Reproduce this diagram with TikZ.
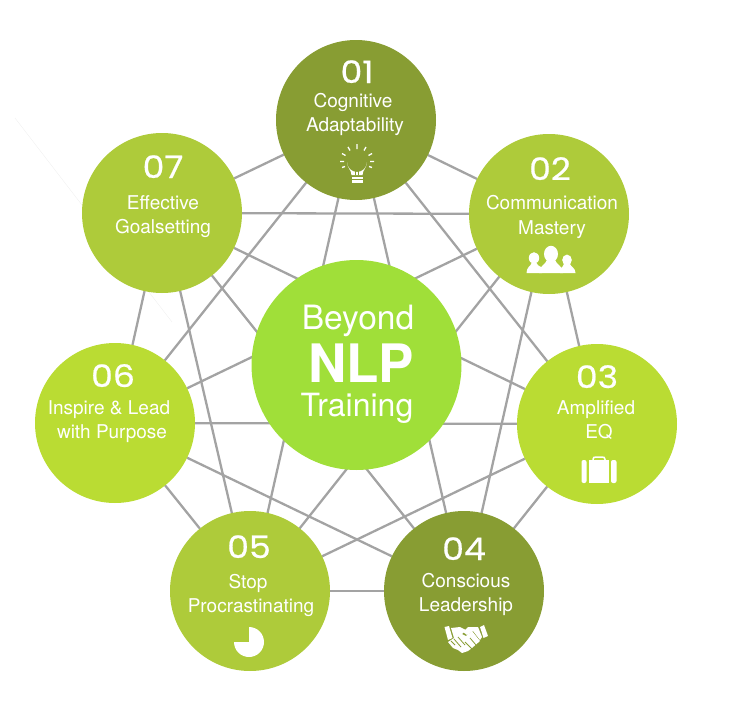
\documentclass[tikz,border=0pt]{standalone}
\usepackage{fontspec}
\setmainfont{TeX Gyre Heros}
\newfontfamily\numfont[FakeStretch=1.12,FakeBold=0.6]{Poppins}
\usetikzlibrary{backgrounds}
\definecolor{cDark}{HTML}{889D33}
\definecolor{cMid}{HTML}{AECB3A}
\definecolor{cLime}{HTML}{BADC33}
\definecolor{cCore}{HTML}{A0DF39}
\definecolor{cLine}{HTML}{A3A3A3}
\tikzset{
  x=1pt,y=-1pt,
  disc/.style={circle,minimum size=160pt,inner sep=0pt,outer sep=0pt},
  core/.style={circle,minimum size=210pt,inner sep=0pt,outer sep=0pt,fill=cCore},
  link/.style={draw=cLine,line width=2.3pt},
  numtext/.style={anchor=base,text=white,inner sep=0pt,font=\numfont\fontsize{31}{31}\selectfont},
  labeltext/.style={anchor=base,text=white,inner sep=0pt,font=\fontsize{19}{19}\selectfont},
  icon/.style={fill=white,draw=none},
  iconline/.style={draw=white,line width=1.4pt}
}
\begin{document}
\begin{tikzpicture}
\useasboundingbox (0,0) rectangle (737,720);
\draw[draw=black!6,line width=.4pt] (15,118) -- (172,322);
% discs
\node[disc,fill=cDark] (n1) at (356,120) {};
\node[disc,fill=cMid]  (n2) at (549,214) {};
\node[disc,fill=cLime] (n3) at (597,424) {};
\node[disc,fill=cDark] (n4) at (464,591) {};
\node[disc,fill=cMid]  (n5) at (250,591) {};
\node[disc,fill=cLime] (n6) at (115,423) {};
\node[disc,fill=cMid]  (n7) at (162,213) {};
\node[core] (hub) at (356.5,365) {};
% connectors
\begin{scope}[on background layer]
\foreach \a/\b in {n1/n2,n2/n3,n3/n4,n4/n5,n5/n6,n6/n7,n7/n1,
                   n1/n3,n2/n4,n3/n5,n4/n6,n5/n7,n6/n1,n7/n2,
                   n1/n4,n2/n5,n3/n6,n4/n7,n5/n1,n6/n2,n7/n3}
  \draw[link] (\a) -- (\b);
\end{scope}
% hub text
\node[anchor=base,text=white,inner sep=0pt,font=\fontsize{33.5}{33.5}\selectfont] (h1) at (358,329) {Beyond};
\node[anchor=base,text=white,inner sep=0pt,font=\bfseries\fontsize{53}{53}\selectfont] (h2) at (361,382) {NLP};
\node[anchor=base,text=white,inner sep=0pt,font=\fontsize{32}{32}\selectfont] (h3) at (357,416) {Training};
% numbers and labels
\node[numtext] (a1) at (357,83) {01};
\node[labeltext] (b1) at (353,107) {Cognitive};
\node[labeltext] (c1) at (355,131) {Adaptability};
\node[numtext] (a2) at (550,180) {02};
\node[labeltext] (b2) at (552,209) {Communication};
\node[labeltext] (c2) at (552,234) {Mastery};
\node[numtext] (a3) at (597,388) {03};
\node[labeltext] (b3) at (596,414) {Amplified};
\node[labeltext] (c3) at (599,438) {EQ};
\node[numtext] (a4) at (464,560) {04};
\node[labeltext] (b4) at (466,587) {Conscious};
\node[labeltext] (c4) at (466,611) {Leadership};
\node[numtext] (a5) at (249,558) {05};
\node[labeltext] (b5) at (248,588) {Stop};
\node[labeltext] (c5) at (251,612) {Procrastinating};
\node[numtext] (a6) at (113,387) {06};
\node[labeltext] (b6) at (109,414) {Inspire \& Lead};
\node[labeltext] (c6) at (112,438) {with Purpose};
\node[numtext] (a7) at (163,178) {07};
\node[labeltext] (b7) at (163,209) {Effective};
\node[labeltext] (c7) at (163,233) {Goalsetting};
% bulb icon
\begin{scope}[shift={(357,162)}]
  \fill[icon] (-10,0) arc (180:0:10) .. controls (10,6) and (5.5,8) .. (5.5,13) -- (-5.5,13) .. controls (-5.5,8) and (-10,6) .. (-10,0) -- cycle;
  \draw[draw=cDark,line width=.9pt] (-1.5,13) -- (-1.5,-1) arc (0:180:2) (-5.5,-1) arc (180:300:2.5)
        (1.5,13) -- (1.5,-1) arc (180:0:2) (5.5,-1) arc (0:-120:2.5);
  \fill[icon] (-5.5,14.5) rectangle (5.5,16.5);
  \fill[icon] (-5.5,18) rectangle (5.5,20.5);
  \draw[iconline,line width=1.3pt]
    (0,-13) -- (0,-18) (-7,-11.5) -- (-9,-15) (7,-11.5) -- (9,-15)
    (-11.5,-6.5) -- (-15,-8.5) (11.5,-6.5) -- (15,-8.5)
    (-13,-0.5) -- (-17,-0.5) (13,-0.5) -- (17,-0.5)
    (-12,4.5) -- (-15,5.5) (12,4.5) -- (15,5.5);
\end{scope}
% people icon
\begin{scope}[shift={(551,258)}]
  \fill[icon,shift={(-17,0)}] (0,0) circle[x radius=5.2pt,y radius=5.8pt];
  \fill[icon] (-24.5,15) .. controls (-24.5,9) and (-20,8) .. (-19.5,5) -- (-14.5,5) .. controls (-14,7) and (-12,8) .. (-10,9) .. controls (-11,11) and (-11,13) .. (-9,15) -- cycle;
  \fill[icon,shift={(16,2)}] (0,0) circle[x radius=4.8pt,y radius=5.4pt];
  \fill[icon] (24.5,15) .. controls (24.5,10) and (20,9) .. (19,6) -- (13,6) .. controls (12.5,8) and (11,9) .. (10,10) .. controls (11,12) and (11,13.5) .. (9,15) -- cycle;
  \fill[icon] (0,-4) circle[x radius=7pt,y radius=8.2pt];
  \fill[icon] (-12,15) .. controls (-12,8) and (-5,6) .. (-4,2) -- (4,2) .. controls (5,6) and (12,8) .. (12,15) -- cycle;
\end{scope}
% suitcase icon
\begin{scope}
  \draw[draw=white,line width=1.5pt] (593,461) -- (593,459.5) .. controls (593,457.5) and (594,457) .. (596,457) -- (602,457) .. controls (604,457) and (605,457.5) .. (605,459.5) -- (605,461);
  \fill[icon,rounded corners=2pt] (581.5,460) rectangle (586.5,483);
  \fill[icon] (589,460) rectangle (609,483);
  \fill[icon,rounded corners=2pt] (611,460) rectangle (616.5,483);
\end{scope}
% handshake icon
\begin{scope}
  \fill[icon] (444.5,627) -- (449,626) -- (452.5,638) -- (448,640) -- cycle;
  \fill[icon] (484,625) -- (488,636) -- (483.5,638) -- (480,627) -- cycle;
  \fill[icon] (451,628) -- (460,627) -- (466,630) -- (462,634) -- (466,636) -- (472,631) -- (480,641) -- (472,648) -- (468,651) -- (462,653) -- (458,650) -- (453,648) -- (448,642) -- (454,638) -- cycle;
  \fill[icon] (463,632) -- (468,627) -- (478,627) -- (482,637) -- (480,640) -- (473,631) -- (467,635) -- cycle;
  \draw[draw=cDark,line width=.8pt] (451,641) -- (455,645) (454,639) -- (461,647) (458,637) -- (465,645) (472,649) -- (465,642) (476,645) -- (470,638);
\end{scope}
% pie icon
\begin{scope}
  \fill[icon] (249,642) -- (249,627) arc (-90:180:15) -- cycle;
\end{scope}
\end{tikzpicture}
\end{document}
